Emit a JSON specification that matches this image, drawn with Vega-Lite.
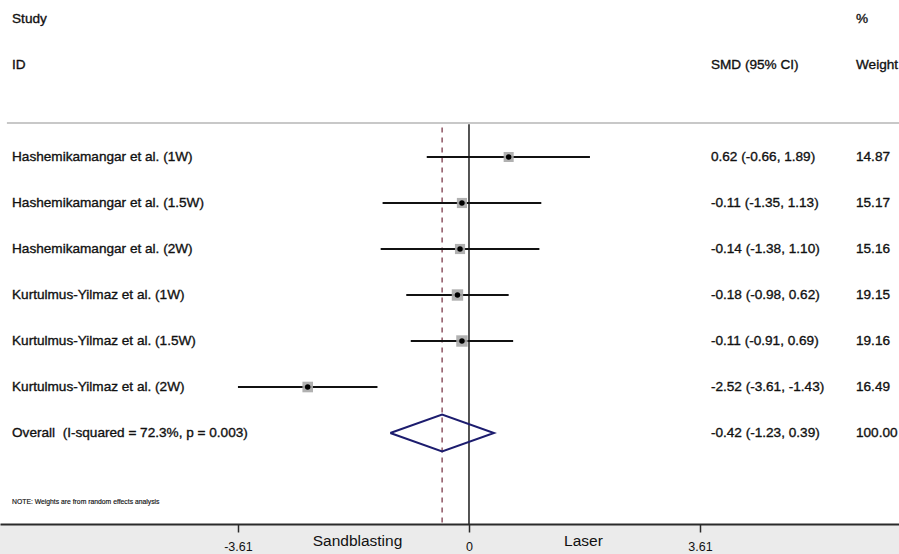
{
  "$schema": "https://vega.github.io/schema/vega-lite/v6.json",
  "width": 899,
  "height": 524,
  "autosize": {"type": "none"},
  "padding": {"left": 0, "top": 0, "right": 0, "bottom": 30},
  "background": "#ebebeb",
  "config": {
    "view": {"fill": "white", "stroke": null},
    "text": {"font": "Liberation Sans", "fontSize": 13.6, "color": "#111", "stroke": "#111", "strokeWidth": 0.35, "baseline": "middle", "align": "left"}
  },
  "datasets": {
    "studies": [
      {"study": "Hashemikamangar et al. (1W)", "row": 1, "es": 0.62, "lo": -0.66, "hi": 1.89, "wt": 14.87},
      {"study": "Hashemikamangar et al. (1.5W)", "row": 2, "es": -0.11, "lo": -1.35, "hi": 1.13, "wt": 15.17},
      {"study": "Hashemikamangar et al. (2W)", "row": 3, "es": -0.14, "lo": -1.38, "hi": 1.10, "wt": 15.16},
      {"study": "Kurtulmus-Yilmaz et al. (1W)", "row": 4, "es": -0.18, "lo": -0.98, "hi": 0.62, "wt": 19.15},
      {"study": "Kurtulmus-Yilmaz et al. (1.5W)", "row": 5, "es": -0.11, "lo": -0.91, "hi": 0.69, "wt": 19.16},
      {"study": "Kurtulmus-Yilmaz et al. (2W)", "row": 6, "es": -2.52, "lo": -3.61, "hi": -1.43, "wt": 16.49}
    ],
    "table": [
      {"row": -2, "name": "Study", "ci": "", "wtext": "%"},
      {"row": -1, "name": "ID", "ci": "SMD (95% CI)", "wtext": "Weight"},
      {"row": 1, "name": "Hashemikamangar et al. (1W)", "ci": "0.62 (-0.66, 1.89)", "wtext": "14.87"},
      {"row": 2, "name": "Hashemikamangar et al. (1.5W)", "ci": "-0.11 (-1.35, 1.13)", "wtext": "15.17"},
      {"row": 3, "name": "Hashemikamangar et al. (2W)", "ci": "-0.14 (-1.38, 1.10)", "wtext": "15.16"},
      {"row": 4, "name": "Kurtulmus-Yilmaz et al. (1W)", "ci": "-0.18 (-0.98, 0.62)", "wtext": "19.15"},
      {"row": 5, "name": "Kurtulmus-Yilmaz et al. (1.5W)", "ci": "-0.11 (-0.91, 0.69)", "wtext": "19.16"},
      {"row": 6, "name": "Kurtulmus-Yilmaz et al. (2W)", "ci": "-2.52 (-3.61, -1.43)", "wtext": "16.49"},
      {"row": 7, "name": "Overall\u00a0 (I-squared = 72.3%, p = 0.003)", "ci": "-0.42 (-1.23, 0.39)", "wtext": "100.00"}
    ],
    "diamond": [
      {"ord": 1, "x": -1.23, "y": 7},
      {"ord": 2, "x": -0.42, "y": 6.6},
      {"ord": 3, "x": 0.39, "y": 7},
      {"ord": 4, "x": -0.42, "y": 7.4},
      {"ord": 5, "x": -1.23, "y": 7}
    ],
    "lines": [
      {"pooled": -0.42, "null": 0}
    ]
  },
  "layer": [
    {
      "data": {"name": "lines"},
      "mark": {"type": "rule", "color": "#c8c8c8", "strokeWidth": 2},
      "encoding": {
        "x": {"datum": -7.22, "type": "quantitative", "scale": {"domain": [-7.328, 6.719], "nice": false, "zero": false},
          "axis": {
            "title": null,
            "values": [-3.61, -1.75, 0, 1.78, 3.61],
            "labelExpr": "datum.value == -1.75 ? 'Sandblasting' : datum.value == 1.78 ? 'Laser' : datum.value == 0 ? '0' : datum.value < 0 ? '-3.61' : '3.61'",
            "domainColor": "#2a2a2a",
            "domainWidth": 2,
            "tickColor": "#2a2a2a",
            "tickWidth": 1.5,
            "tickSize": 8,
            "tickOpacity": {"condition": {"test": "datum.value == -1.75 || datum.value == 1.78", "value": 0}, "value": 1},
            "labelFont": "Liberation Sans",
            "labelColor": "#111",
            "labelFontSize": {"condition": {"test": "datum.value == -1.75 || datum.value == 1.78", "value": 15.5}, "value": 12.5},
            "labelPadding": {"condition": {"test": "datum.value == -1.75 || datum.value == 1.78", "value": 1}, "value": 8},
            "labelOverlap": false,
            "labelFlush": false,
            "grid": false
          }
        },
        "x2": {"datum": 6.719},
        "y": {"datum": 0.26, "type": "quantitative", "scale": {"domain": [-2.413, 8.978], "reverse": true, "nice": false, "zero": false}, "axis": null}
      }
    },
    {
      "data": {"name": "lines"},
      "mark": {"type": "rule", "color": "#2a2a2a", "strokeWidth": 1.6},
      "encoding": {
        "x": {"field": "null", "type": "quantitative"},
        "y": {"datum": 0.29, "type": "quantitative"},
        "y2": {"datum": 8.978}
      }
    },
    {
      "data": {"name": "lines"},
      "mark": {"type": "rule", "color": "#7b3b4b", "strokeWidth": 1.3, "strokeDash": [5, 5]},
      "encoding": {
        "x": {"field": "pooled", "type": "quantitative"},
        "y": {"datum": 0.36, "type": "quantitative"},
        "y2": {"datum": 8.978}
      }
    },
    {
      "data": {"name": "studies"},
      "mark": {"type": "rule", "color": "#111", "strokeWidth": 2},
      "encoding": {
        "x": {"field": "lo", "type": "quantitative"},
        "x2": {"field": "hi"},
        "y": {"field": "row", "type": "quantitative"}
      }
    },
    {
      "data": {"name": "studies"},
      "mark": {"type": "square", "color": "#a8a8a8", "opacity": 0.9},
      "encoding": {
        "x": {"field": "es", "type": "quantitative"},
        "y": {"field": "row", "type": "quantitative"},
        "size": {"field": "wt", "type": "quantitative", "scale": {"domain": [0, 20], "range": [0, 136]}, "legend": null}
      }
    },
    {
      "data": {"name": "studies"},
      "mark": {"type": "circle", "color": "#000", "size": 30, "opacity": 1},
      "encoding": {
        "x": {"field": "es", "type": "quantitative"},
        "y": {"field": "row", "type": "quantitative"}
      }
    },
    {
      "data": {"name": "diamond"},
      "mark": {"type": "line", "color": "#1c1c6e", "strokeWidth": 2},
      "encoding": {
        "x": {"field": "x", "type": "quantitative"},
        "y": {"field": "y", "type": "quantitative"},
        "order": {"field": "ord"}
      }
    },
    {
      "data": {"name": "table"},
      "mark": {"type": "text"},
      "encoding": {
        "x": {"datum": -7.14, "type": "quantitative"},
        "y": {"field": "row", "type": "quantitative"},
        "text": {"field": "name"}
      }
    },
    {
      "data": {"name": "table"},
      "mark": {"type": "text"},
      "encoding": {
        "x": {"datum": 3.78, "type": "quantitative"},
        "y": {"field": "row", "type": "quantitative"},
        "text": {"field": "ci"}
      }
    },
    {
      "data": {"name": "table"},
      "mark": {"type": "text"},
      "encoding": {
        "x": {"datum": 6.047, "type": "quantitative"},
        "y": {"field": "row", "type": "quantitative"},
        "text": {"field": "wtext"}
      }
    },
    {
      "data": {"values": [{"note": "NOTE: Weights are from random effects analysis", "row": 8.5}]},
      "mark": {"type": "text", "fontSize": 6.8, "strokeWidth": 0.15},
      "encoding": {
        "x": {"datum": -7.14, "type": "quantitative"},
        "y": {"field": "row", "type": "quantitative"},
        "text": {"field": "note"}
      }
    }
  ]
}
